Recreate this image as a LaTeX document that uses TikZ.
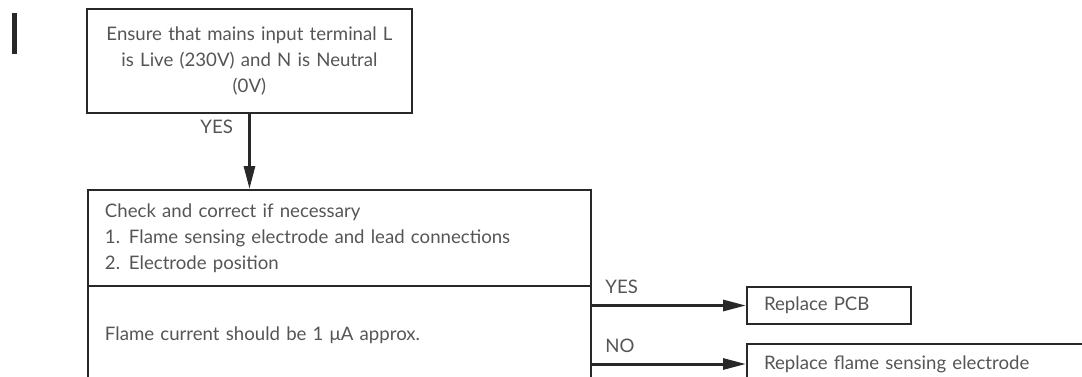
\documentclass[tikz,border=0pt]{standalone}
\usepackage{fontspec}
\setmainfont{Lato}
\usetikzlibrary{positioning, arrows.meta}
\definecolor{flowline}{RGB}{40, 40, 40}
\definecolor{flowtext}{RGB}{85, 85, 85}

\begin{document}
\begin{tikzpicture}[x=0.02cm, y=-0.02cm,
        every node/.style={font=\fontsize{10.6}{14.8}\selectfont, text=flowtext},
        fbox/.style={draw=flowline, line width=0.04cm, anchor=north west,
            inner xsep=0.34cm, inner ysep=0pt, align=left},
        farr/.style={-{Triangle[length=0.46cm, width=0.22cm]}, line width=0.06cm, flowline},
        flbl/.style={inner sep=0pt}
    ]
    \useasboundingbox (0,0) rectangle (1082,376);
    \clip (0,0) rectangle (1082,376);

    % === Change bar ===
    \fill[flowline] (12,13) rectangle (17,54);

    % === Supply check ===
    \node[fbox, align=center, text width=5.82cm, minimum height=2.08cm] (mains) at (86,8)
        {Ensure that mains input terminal L\\
         is Live (230V) and N is Neutral\\
         (0V)};

    % === Electrode check (two parts) ===
    \node[fbox, text width=9.38cm, minimum height=1.92cm] (chk) at (87,189)
        {Check and correct if necessary\\
         \makebox[0.48cm][l]{1.}Flame sensing electrode and lead connections\\
         \makebox[0.48cm][l]{2.}Electrode position};
    \node[fbox, text width=9.38cm, minimum height=1.96cm] (cur) at (87,285)
        {Flame current should be 1 μA approx.};

    % === Outcomes ===
    \node[fbox, text width=2.6cm, minimum height=0.74cm] (pcb) at (746,286)
        {Replace PCB};
    \node[fbox, text width=7.32cm, minimum height=0.8cm] (elec) at (746,343)
        {Replace flame sensing electrode};

    % === Arrows ===
    \draw[farr] (mains.south) -- (mains.south |- chk.north)
        node[flbl, pos=0.17, anchor=east, xshift=-0.3cm] {YES};
    \draw[farr] (pcb.west -| cur.east) -- (pcb.west)
        node[flbl, pos=0, anchor=south west, xshift=0.24cm, yshift=0.2cm] {YES};
    \draw[farr] (elec.west -| cur.east) -- (elec.west)
        node[flbl, pos=0, anchor=south west, xshift=0.24cm, yshift=0.2cm] {NO};

\end{tikzpicture}
\end{document}
